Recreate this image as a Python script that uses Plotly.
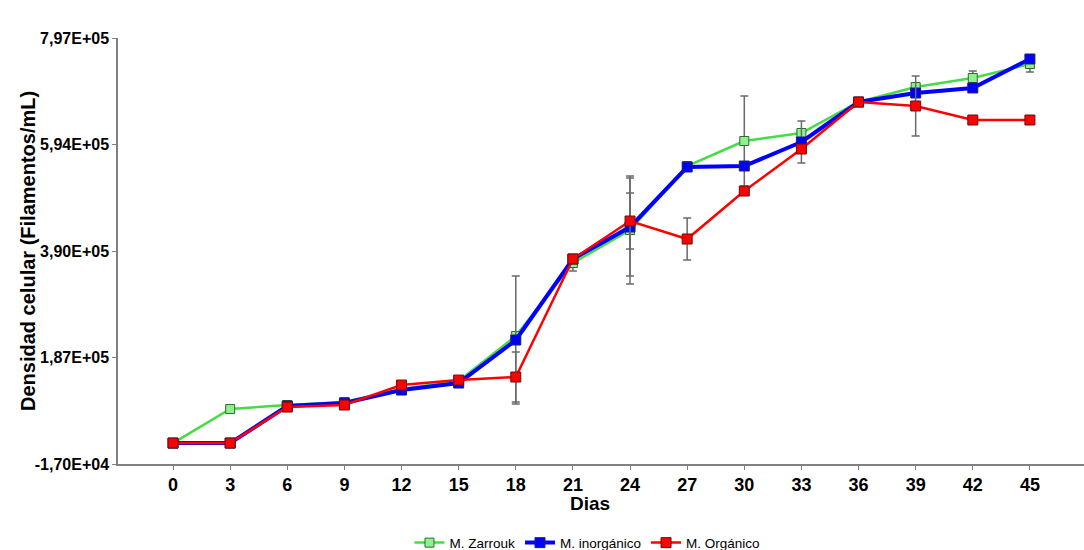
import plotly.graph_objects as go

dias = [0, 3, 6, 9, 12, 15, 18, 21, 24, 27, 30, 33, 36, 39, 42, 45]

zarrouk = [23000, 88000, 95700, 101400, 126200, 141500, 227500, 367000,
           430100, 552400, 600200, 615500, 674700, 703400, 720600, 747300]
inorganico = [23000, 23000, 93800, 99500, 124300, 137700, 219900, 374700,
              435800, 550500, 552400, 598300, 674700, 691900, 701500, 756900]
organico = [23000, 23000, 91800, 95700, 133900, 143400, 149200, 374700,
            447300, 412900, 504600, 584900, 674700, 667100, 640300, 640300]

err_zarrouk = [0, 0, 0, 0, 0, 0, 0, 15300, 103200, 0, 86000, 0, 0, 0, 13400, 15300]
err_inorganico = [0, 0, 0, 0, 0, 0, 122300, 0, 93600, 0, 0, 40100, 0, 0, 0, 0]
err_organico = [0, 0, 0, 0, 0, 0, 47800, 0, 53500, 40100, 0, 0, 0, 57300, 0, 0]

ytick_vals = [-17000, 186500, 390000, 593500, 797000]
ytick_text = ["-1,70E+04", "1,87E+05", "3,90E+05", "5,94E+05", "7,97E+05"]

FONT = "Liberation Sans, Arial, sans-serif"
ERR_COLOR = "#6a6a6a"

def err(vals):
    return dict(type="data", array=vals, visible=True, color=ERR_COLOR,
                thickness=1.5, width=4)

fig = go.Figure()
fig.add_trace(go.Scatter(
    x=dias, y=zarrouk, name="M. Zarrouk", mode="lines+markers",
    line=dict(color="#45dc45", width=2.5),
    marker=dict(symbol="square", size=9, color="#8ff08f",
                line=dict(color="#2e6b2e", width=1)),
    error_y=err(err_zarrouk)))
fig.add_trace(go.Scatter(
    x=dias, y=inorganico, name="M. inorgánico", mode="lines+markers",
    line=dict(color="#0000ff", width=4),
    marker=dict(symbol="square", size=10, color="#0000ff",
                line=dict(color="#222266", width=1)),
    error_y=err(err_inorganico)))
fig.add_trace(go.Scatter(
    x=dias, y=organico, name="M. Orgánico", mode="lines+markers",
    line=dict(color="#ff0000", width=2.5),
    marker=dict(symbol="square", size=10, color="#ff0000",
                line=dict(color="#661111", width=1)),
    error_y=err(err_organico)))

fig.update_layout(
    width=1084, height=550,
    margin=dict(l=118, r=0, t=38, b=86, autoexpand=False),
    paper_bgcolor="white", plot_bgcolor="white",
    font=dict(family=FONT, color="black"),
    showlegend=True,
    legend=dict(orientation="h", x=0.486, xanchor="center",
                yref="container", y=0.013, yanchor="middle",
                font=dict(size=13.5, family=FONT),
                bgcolor="rgba(0,0,0,0)"),
    xaxis=dict(
        range=[-2.89, 47.84], tickvals=dias, ticktext=[str(d) for d in dias],
        showline=True, linecolor="#808080", linewidth=1.5,
        ticks="outside", ticklen=4, tickcolor="#808080",
        showgrid=False, zeroline=False, automargin=False,
        tickfont=dict(size=18, family=FONT, weight="bold"),
    ),
    yaxis=dict(
        range=[-17000, 797000], tickvals=ytick_vals, ticktext=ytick_text,
        showline=True, linecolor="#808080", linewidth=1.5,
        ticks="outside", ticklen=4, tickcolor="#808080",
        showgrid=False, zeroline=False, automargin=False,
        tickfont=dict(size=16, family=FONT, weight="bold"),
    ),
    annotations=[
        dict(text="<b>Densidad celular (Filamentos/mL)</b>",
             xref="paper", yref="paper", x=-0.0932, y=0.5,
             xanchor="center", yanchor="middle", textangle=-90, showarrow=False,
             font=dict(size=20, family=FONT, color="black")),
        dict(text="<b>Dias</b>",
             xref="paper", yref="paper", x=0.4886, y=-0.0935,
             xanchor="center", yanchor="middle", showarrow=False,
             font=dict(size=19, family=FONT, color="black")),
    ],
)

fig.write_html("out.html")
